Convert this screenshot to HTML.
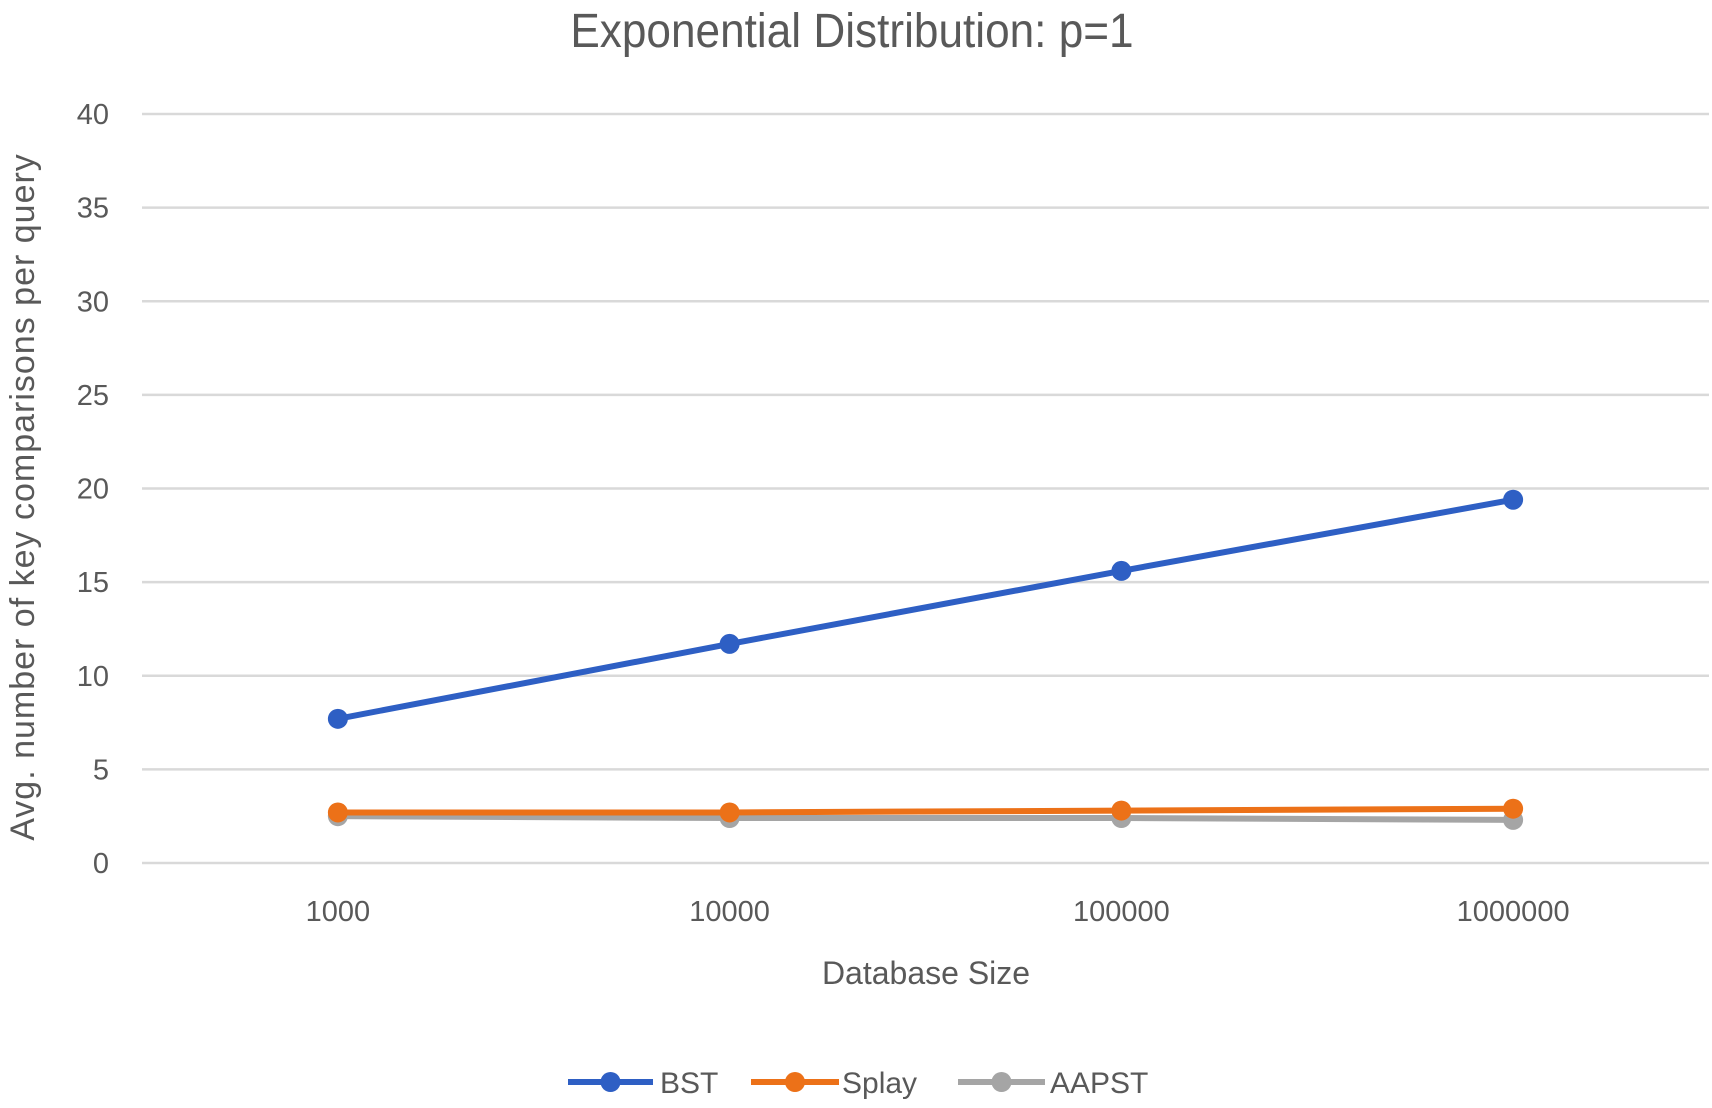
<!DOCTYPE html>
<html><head><meta charset="utf-8"><style>
body{margin:0;background:#fff;}
svg{display:block;font-family:"Liberation Sans",sans-serif;}
</style></head><body>
<svg id="chart" width="1712" height="1108" viewBox="0 0 1712 1108">
<text x="852" y="47" text-anchor="middle" font-size="48" fill="#595959" transform="translate(852,0) scale(0.92,1) translate(-852,0)">Exponential Distribution: p=1</text>
<g id="grid"></g><g id="yticks"></g><g id="xticks"></g><g id="series"></g>
<text x="926" y="984" text-anchor="middle" font-size="32" fill="#595959">Database Size</text>
<text transform="translate(34,497) rotate(-90)" text-anchor="middle" font-size="34" letter-spacing="1" fill="#595959">Avg. number of key comparisons per query</text>
<g id="legend"></g>
</svg>
<script>
const categories=["1000","10000","100000","1000000"];
const bstValues=[7.7,11.7,15.6,19.4];
const splayValues=[2.7,2.7,2.8,2.9];
const aapstValues=[2.5,2.4,2.4,2.3];
const yTicks=[0,5,10,15,20,25,30,35,40];
const NS="http://www.w3.org/2000/svg";
const yMin=0,yMax=40,py0=863,py1=114,pxL=142,pxR=1709;
function yScale(v){return py0-(v-yMin)/(yMax-yMin)*(py0-py1);}
function xScale(i){const band=(pxR-pxL)/categories.length;return pxL+band*(i+0.5);}
function mk(t,a,p){const e=document.createElementNS(NS,t);for(const k in a)e.setAttribute(k,a[k]);p.appendChild(e);return e;}
const grid=document.getElementById('grid'),yt=document.getElementById('yticks'),xt=document.getElementById('xticks'),ser=document.getElementById('series'),leg=document.getElementById('legend');
yTicks.forEach(v=>{
 const l=mk('line',{x1:pxL,x2:pxR,y1:yScale(v),y2:yScale(v),stroke:'#d9d9d9','stroke-width':2.5},grid);
 
 
 const t=mk('text',{x:109,y:yScale(v)+10,'text-anchor':'end','font-size':29,fill:'#595959'},yt);
 t.textContent=v;
 
 
});
categories.forEach((c,i)=>{
 const t=mk('text',{x:xScale(i),y:921,'text-anchor':'middle','font-size':29,fill:'#595959'},xt);
 t.textContent=c;
 
 
});
const series=[["BST",bstValues,"#2e5fc4"],["Splay",splayValues,"#ec7118"],["AAPST",aapstValues,"#a5a5a5"]];
series.slice().reverse().forEach(([name,vals,col])=>{
 const g=mk('g',{},ser);
 
 
 const p=mk('polyline',{points:vals.map((v,i)=>xScale(i)+','+yScale(v)).join(' '),fill:'none',stroke:col,'stroke-width':6,'stroke-linejoin':'round'},g);
 
 
 vals.forEach((v,i)=>{
  const c=mk('circle',{cx:xScale(i),cy:yScale(v),r:10,fill:col},g);
  
  
 });
});
const legPos=[[568,653,660],[751,839,842],[958,1045,1050]];
series.forEach(([name,vals,col],k)=>{
 const [a,b,tx]=legPos[k];
 const g=mk('g',{},leg);
 
 
 mk('line',{x1:a,x2:b,y1:1082,y2:1082,stroke:col,'stroke-width':6},g);
 mk('circle',{cx:(a+b)/2,cy:1082,r:10,fill:col},g);
 const t=mk('text',{x:tx,y:1093,'font-size':30,fill:'#595959'},g);
 t.textContent=name;
});
</script>
</body></html>
